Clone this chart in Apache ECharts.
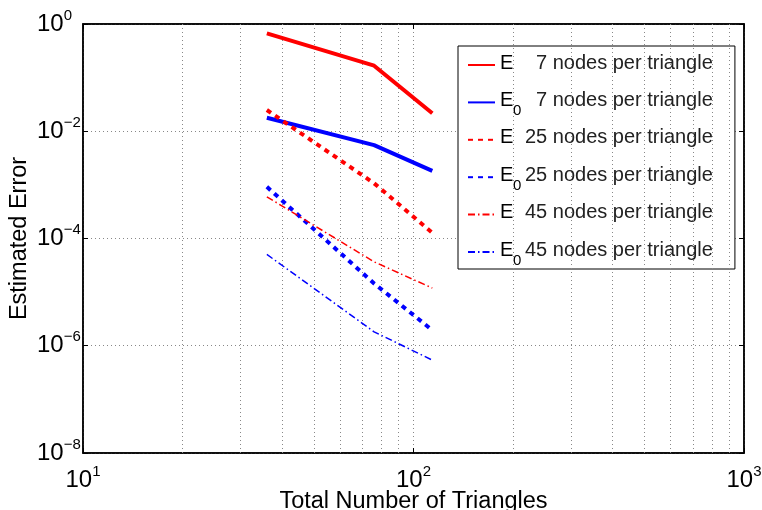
<!DOCTYPE html>
<html>
<head>
<meta charset="utf-8">
<script src="https://cdn.jsdelivr.net/npm/echarts@6/dist/echarts.min.js"></script>
<style>
  html, body { margin: 0; padding: 0; background: #fff; }
  #chart { width: 762px; height: 510px; }
</style>
</head>
<body>
<div id="chart"></div>
<script>
// number of triangles in each mesh
const triangles = [36, 76, 114]

// estimated errors
const e7 = [0.67, 0.167, 0.0216]
const e0_7 = [0.0179, 0.0055, 0.00183]
const e25 = [0.0249, 0.00107, 1.28e-4]
const e0_25 = [9.2e-4, 1.45e-5, 1.95e-6]
const e45 = [6.0e-4, 3.67e-5, 1.19e-5]
const e0_45 = [5.05e-5, 1.82e-6, 5.4e-7]

const seriesNames = ['E7', 'E07', 'E25', 'E025', 'E45', 'E045']
const nodeCounts = ['7', '7', '25', '25', '45', '45']
const subscripts = ['', '0', '', '0', '', '0']

// minor grid lines of the log x axis
const minorX = [20, 30, 40, 50, 60, 70, 80, 90, 200, 300, 400, 500, 600, 700, 800, 900]

const font = 'Liberation Sans, Arial, Helvetica, sans-serif'

function pair(xs, ys) {
  return xs.map((x, i) => [x, ys[i]])
}

function powLabel(v) {
  const p = Math.round(Math.log10(v))
  return '{b|10}{e|' + String(p).replace('-', '\u2212') + '}'
}

// "10" centred in a tall line box, exponent pinned to the top of it
const powRich = {
  b: { fontSize: 24, lineHeight: 32, color: '#000', fontFamily: font },
  e: { fontSize: 15, lineHeight: 15, verticalAlign: 'top', color: '#000', fontFamily: font }
}

const chart = echarts.init(document.getElementById('chart'), null, { renderer: 'canvas' })

const red = '#ff0000'
const blue = '#0000ff'
const dashDot = [7, 3, 1.5, 3]

chart.setOption({
  animation: false,
  textStyle: { fontFamily: font },
  grid: {
    left: 83, right: 18, top: 24, bottom: 57,
    containLabel: false,
    outerBoundsMode: 'none',
    show: true, borderColor: '#000', borderWidth: 1.5
  },
  legend: {
    orient: 'vertical',
    left: 458,
    top: 46,
    padding: [7, 22, 1, 9],
    itemGap: 9.4,
    itemWidth: 27,
    itemHeight: 14,
    backgroundColor: '#fff',
    borderColor: '#000',
    borderWidth: 1,
    borderRadius: 0,
    itemStyle: { opacity: 0 },
    data: seriesNames,
    formatter: function (name) {
      const i = seriesNames.indexOf(name)
      // rows without subscript get a blank of the same size so all rows match
      const sub = '{s|' + (subscripts[i] || ' ') + '}'
      // one-digit counts are pushed right so the numbers line up on the right
      const num = nodeCounts[i].length === 1 ? '{n1|' + nodeCounts[i] + '}' : '{n|' + nodeCounts[i] + '}'
      return '{e|E}' + sub + num + '{t| nodes per triangle}'
    },
    textStyle: {
      rich: {
        e: { fontSize: 20, lineHeight: 24, width: 13, verticalAlign: 'top', color: '#000', fontFamily: font },
        s: { fontSize: 15, lineHeight: 14, width: 12, padding: [13, 0, 0, 0], verticalAlign: 'top', color: '#000', fontFamily: font },
        n: { fontSize: 20, lineHeight: 24, verticalAlign: 'top', color: '#222', fontFamily: font },
        n1: { fontSize: 20, lineHeight: 24, padding: [0, 0, 0, 11], verticalAlign: 'top', color: '#222', fontFamily: font },
        t: { fontSize: 20, lineHeight: 24, verticalAlign: 'top', color: '#222', fontFamily: font }
      }
    }
  },
  xAxis: [{
    type: 'log',
    logBase: 10,
    min: 10,
    max: 1000,
    name: 'Total Number of Triangles',
    nameLocation: 'middle',
    nameGap: 37,
    nameMoveOverlap: false,
    nameTextStyle: { fontSize: 23.5, color: '#000', fontFamily: font },
    axisLine: { lineStyle: { color: '#000', width: 1.5 } },
    axisTick: { inside: true, length: 5, lineStyle: { color: '#000' } },
    axisLabel: { formatter: powLabel, rich: powRich, margin: 11 },
    splitLine: { show: true, lineStyle: { type: [1, 3], color: '#888' } }
  }, {
    type: 'log',
    logBase: 10,
    min: 10,
    max: 1000,
    position: 'top',
    axisLine: { lineStyle: { color: '#000', width: 1.5 } },
    axisTick: { inside: true, length: 5, lineStyle: { color: '#000' } },
    axisLabel: { show: false },
    splitLine: { show: false }
  }],
  yAxis: [{
    type: 'log',
    logBase: 10,
    min: 1e-8,
    max: 1,
    interval: 2,
    name: 'Estimated Error',
    nameLocation: 'middle',
    nameGap: 51,
    nameMoveOverlap: false,
    nameTextStyle: { fontSize: 23.5, color: '#000', fontFamily: font },
    axisLine: { lineStyle: { color: '#000', width: 1.5 } },
    axisTick: { inside: true, length: 5, lineStyle: { color: '#000' } },
    axisLabel: { formatter: powLabel, rich: powRich, margin: 46, align: 'left' },
    splitLine: { show: true, lineStyle: { type: [1, 3], color: '#888' } }
  }, {
    type: 'log',
    logBase: 10,
    min: 1e-8,
    max: 1,
    interval: 2,
    position: 'right',
    axisLine: { lineStyle: { color: '#000', width: 1.5 } },
    axisTick: { inside: true, length: 5, lineStyle: { color: '#000' } },
    axisLabel: { show: false },
    splitLine: { show: false }
  }],
  series: [{
    name: 'E7',
    type: 'line',
    symbol: 'none',
    data: pair(triangles, e7),
    lineStyle: { color: red, width: 4 },
    itemStyle: { color: red },
    z: 5,
    markLine: {
      silent: true,
      symbol: 'none',
      label: { show: false },
      lineStyle: { type: [1, 3], color: '#888', width: 1 },
      data: minorX.map(x => ({ xAxis: x }))
    }
  }, {
    name: 'E07',
    type: 'line',
    symbol: 'none',
    data: pair(triangles, e0_7),
    lineStyle: { color: blue, width: 4 },
    itemStyle: { color: blue },
    z: 5
  }, {
    name: 'E25',
    type: 'line',
    symbol: 'none',
    data: pair(triangles, e25),
    lineStyle: { color: red, width: 4, type: [5, 5] },
    itemStyle: { color: red },
    z: 5
  }, {
    name: 'E025',
    type: 'line',
    symbol: 'none',
    data: pair(triangles, e0_25),
    lineStyle: { color: blue, width: 4, type: [5, 5] },
    itemStyle: { color: blue },
    z: 5
  }, {
    name: 'E45',
    type: 'line',
    symbol: 'none',
    data: pair(triangles, e45),
    lineStyle: { color: red, width: 1.5, type: dashDot },
    itemStyle: { color: red },
    z: 5
  }, {
    name: 'E045',
    type: 'line',
    symbol: 'none',
    data: pair(triangles, e0_45),
    lineStyle: { color: blue, width: 1.5, type: dashDot },
    itemStyle: { color: blue },
    z: 5
  }]
})
</script>
</body>
</html>
